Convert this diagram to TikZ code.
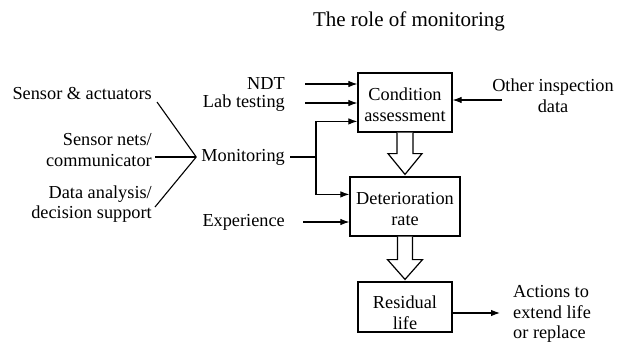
\documentclass[tikz,border=0pt]{standalone}
\usepackage{fontspec}
\setmainfont{Liberation Serif}
\usetikzlibrary{arrows.meta,calc}
\begin{document}
\begin{tikzpicture}[x=1pt,y=-1pt,
  every node/.style={font=\fontsize{18.3}{20.8}\selectfont, inner sep=0pt},
  blk/.style={draw, line width=1.2pt},
  arr/.style={line width=1.1pt, -{Latex[length=9pt,width=6.5pt]}},
  ln/.style={line width=1.1pt},
  hollow/.style={draw, line width=1.2pt, fill=white, line join=miter}]
\useasboundingbox (0,0) rectangle (618,343);

% title
\node[font=\fontsize{21}{24}\selectfont] (title) at (409,21) {The role of monitoring};

% main chain of blocks
\node[blk, minimum width=94pt, minimum height=59pt] (cond) at (405,102.5) {};
\node[blk, minimum width=110pt, minimum height=59pt] (det) at (405,206.5) {};
\node[blk, minimum width=94pt, minimum height=50pt] (res) at (405,307) {};
\node[align=center] (condT) at (405,105) {Condition\\assessment};
\node[align=center] (detT) at (405,209) {Deterioration\\rate};
\node[align=center] (resT) at (405,313) {Residual\\life};

% inputs
\node[anchor=east] (ndt) at (285,84) {NDT};
\node[anchor=east] (lab) at (285,103) {Lab testing};
\node[anchor=east] (mon) at (285,157) {Monitoring};
\node[anchor=east] (exp) at (285,222) {Experience};
\node[align=center] (oth) at (553,96) {Other inspection\\data};
\node[anchor=west, align=left] (act) at (513,314) {Actions to\\extend life\\or replace};

% monitoring components
\node[anchor=east, align=right] (sa) at (152,94) {Sensor \& actuators};
\node[anchor=east, align=right] (snc) at (152,150) {Sensor nets/\\communicator};
\node[anchor=east, align=right] (das) at (152,204) {Data analysis/\\decision support};

% converging lines into Monitoring
\coordinate (cv) at ([xshift=-5pt]mon.west);
\coordinate (saE) at (157,102);
\coordinate (dasE) at (155,207);
\draw[ln] (saE) -- (cv);
\draw[ln] ([xshift=3pt]snc.east |- cv) -- (cv);
\draw[ln] (dasE) -- (cv);

% inputs into the blocks
\draw[arr] ([xshift=20pt]ndt.east) -- (cond.west |- ndt.east);
\draw[arr] ([xshift=20pt]lab.east) -- (cond.west |- lab.east);
\coordinate (br) at (316,157);
\draw[ln] ([xshift=5pt]mon.east) -- (br);
\draw[arr] (br) |- ($(cond.north west)+(0,49)$);
\draw[arr] (br) |- ($(det.north west)+(0,18)$);
\draw[arr] ([xshift=18pt]exp.east) -- (det.west |- exp.east);
\coordinate (othS) at (502,100);
\draw[arr] (othS) -- (cond.east |- othS);
\coordinate (actS) at (500,313);
\draw[arr] (res.east |- actS) -- (actS);

% hollow block arrows
\draw[hollow] ($(cond.south)+(-8,0)$) -- ++(0,21) -- ++(-9,0)
  -- ($(det.north)+(0,-2)$) -- ($(cond.south)+(17,21)$) -- ++(-9,0) -- ($(cond.south)+(8,0)$);
\draw[hollow] ($(det.south)+(-7.5,0)$) -- ++(0,23) -- ++(-10,0)
  -- ($(res.north)+(0,-2)$) -- ($(det.south)+(17.5,23)$) -- ++(-10,0) -- ($(det.south)+(7.5,0)$);
\end{tikzpicture}
\end{document}
